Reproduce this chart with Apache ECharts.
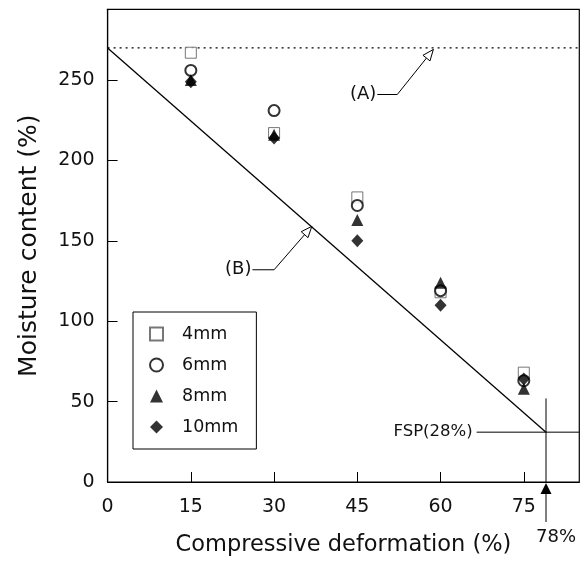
<!DOCTYPE html>
<html>
<head>
<meta charset="utf-8">
<script src="https://cdn.jsdelivr.net/npm/echarts@6/dist/echarts.min.js"></script>
<style>
  html, body { margin: 0; padding: 0; background: #fff; }
  #chart { width: 588px; height: 562px; }
</style>
</head>
<body>
<div id="chart"></div>
<script>
// compressive deformation (%) and moisture content (%) per specimen thickness
var deform = [15, 30, 45, 60, 75];
var mc4 = [267, 217, 177, 118, 68];
var mc6 = [256, 231, 172, 119, 63];
var mc8 = [250, 216, 163, 124, 58];
var mc10 = [249, 214, 150, 110, 64];
var xTicks = [0, 15, 30, 45, 60, 75];
var yTicks = [0, 50, 100, 150, 200, 250];

var lineA = 270;                 // dotted line (A)
var lineB = [[0, 270], [79, 31]]; // solid line (B)
var fspPoint = [79, 31];         // FSP(28%) at 78%

var FONT = '"DejaVu Sans", Verdana, sans-serif';
var chart = echarts.init(document.getElementById('chart'));

function pairs(ys) {
  return deform.map(function (d, i) { return [d, ys[i]]; });
}

var thin = { color: '#000', width: 1 };

chart.setOption({
  animation: false,
  backgroundColor: '#fff',
  textStyle: { fontFamily: FONT, color: '#111' },
  grid: {
    left: 107.6, right: 8.7, top: 9.3, bottom: 79,
    show: true, borderColor: '#000', borderWidth: 1.2
  },
  xAxis: {
    type: 'value', min: 0, max: 85,
    name: 'Compressive deformation (%)', nameLocation: 'middle', nameGap: 52,
    nameTextStyle: { fontSize: 22.5, color: '#111', fontFamily: FONT },
    axisLine: { lineStyle: { color: '#000', width: 1.2 } },
    axisTick: { inside: true, length: 10, lineStyle: { color: '#000' }, customValues: [15, 30, 45, 60, 75] },
    axisLabel: { fontSize: 19, color: '#111', margin: 16, customValues: xTicks },
    splitLine: { show: false }
  },
  yAxis: {
    type: 'value', min: 0, max: 294,
    name: 'Moisture content (%)', nameLocation: 'middle', nameGap: 66,
    nameTextStyle: { fontSize: 25, color: '#111', fontFamily: FONT },
    axisLine: { lineStyle: { color: '#000', width: 1.2 } },
    axisTick: { inside: true, length: 10, lineStyle: { color: '#000' }, customValues: [50, 100, 150, 200, 250] },
    axisLabel: { fontSize: 19, color: '#111', margin: 13, customValues: yTicks },
    splitLine: { show: false }
  },
  legend: {
    orient: 'vertical', left: 133, top: 312,
    borderColor: '#000', borderWidth: 1, borderRadius: 0,
    padding: [13, 18, 13, 16],
    itemWidth: 13, itemHeight: 13, itemGap: 13,
    textStyle: { fontSize: 17.5, color: '#111', fontFamily: FONT, padding: [0, 0, 0, 14] },
    data: ['4mm', '6mm', '8mm', '10mm']
  },
  series: [
    {
      name: '4mm', type: 'scatter', symbol: 'rect', symbolSize: 11, z: 5,
      itemStyle: { color: '#fff', borderColor: '#555', borderWidth: 1 },
      data: pairs(mc4)
    },
    {
      name: '6mm', type: 'scatter', symbol: 'circle', symbolSize: 11, z: 6,
      itemStyle: { color: '#fff', borderColor: '#000', borderWidth: 2 },
      data: pairs(mc6)
    },
    {
      name: '8mm', type: 'scatter', symbol: 'triangle', symbolSize: [12, 12], z: 7,
      itemStyle: { color: '#000' },
      data: pairs(mc8)
    },
    {
      name: '10mm', type: 'scatter', symbol: 'diamond', symbolSize: [12, 13], z: 8,
      itemStyle: { color: '#000' },
      data: pairs(mc10)
    },
    {
      name: 'A', type: 'line', symbol: 'none', silent: true, z: 2,
      lineStyle: { color: '#000', width: 1.3, type: [2, 4] },
      data: [[0, lineA], [85, lineA]]
    },
    {
      name: 'B', type: 'line', symbol: 'none', silent: true, z: 2,
      lineStyle: { color: '#000', width: 1.3 },
      data: lineB
    },
    {
      name: 'fspH', type: 'line', symbol: 'none', silent: true, z: 2,
      lineStyle: thin,
      data: [[66.5, fspPoint[1]], [85, fspPoint[1]]]
    },
    {
      name: 'fspV', type: 'line', symbol: 'none', silent: true, z: 2,
      lineStyle: thin,
      data: [[fspPoint[0], 52], [fspPoint[0], 0]]
    }
  ]
});

// annotations: leader lines with open arrowheads, FSP label, 78% arrow
function px(p) { return chart.convertToPixel({ gridIndex: 0 }, p); }

function openHead(tip, from, len, half) {
  var dx = tip[0] - from[0], dy = tip[1] - from[1];
  var L = Math.sqrt(dx * dx + dy * dy);
  var ux = dx / L, uy = dy / L;
  var bx = tip[0] - ux * len, by = tip[1] - uy * len;
  return [tip, [bx - uy * half, by + ux * half], [bx + uy * half, by - ux * half]];
}

function leader(label, start, elbow, tip) {
  var s = px(start), e = px(elbow), t = px(tip);
  var head = openHead(t, e, 11, 4.5);
  return [
    { type: 'text', x: s[0] - 1, y: s[1], style: { text: label, font: '18px ' + FONT, fill: '#111', align: 'right', verticalAlign: 'middle' } },
    { type: 'polyline', shape: { points: [s, e, t] }, style: { stroke: '#000', lineWidth: 1, fill: null } },
    { type: 'polygon', shape: { points: head }, style: { stroke: '#000', lineWidth: 1, fill: '#fff' }, z: 10 }
  ];
}

var g = [];
g = g.concat(leader('(A)', [48.6, 241], [52.2, 241], [58.7, 269]));
g = g.concat(leader('(B)', [26.1, 132], [30, 132], [36.8, 159]));

var fl = px([66.5, fspPoint[1]]);
g.push({ type: 'text', x: fl[0] - 4, y: fl[1], style: { text: 'FSP(28%)', font: '16.5px ' + FONT, fill: '#111', align: 'right', verticalAlign: 'middle' } });

var base = px([fspPoint[0], 0]);
g.push({ type: 'polygon', shape: { points: [[base[0], base[1] + 1], [base[0] - 5.5, base[1] + 12], [base[0] + 5.5, base[1] + 12]] }, style: { fill: '#000' } });
g.push({ type: 'line', shape: { x1: base[0], y1: base[1] + 10, x2: base[0], y2: base[1] + 40 }, style: { stroke: '#000', lineWidth: 1 } });
g.push({ type: 'text', x: base[0] + 10, y: base[1] + 55, style: { text: '78%', font: '18px ' + FONT, fill: '#111', align: 'center', verticalAlign: 'middle' } });

chart.setOption({ graphic: g });
</script>
</body>
</html>
